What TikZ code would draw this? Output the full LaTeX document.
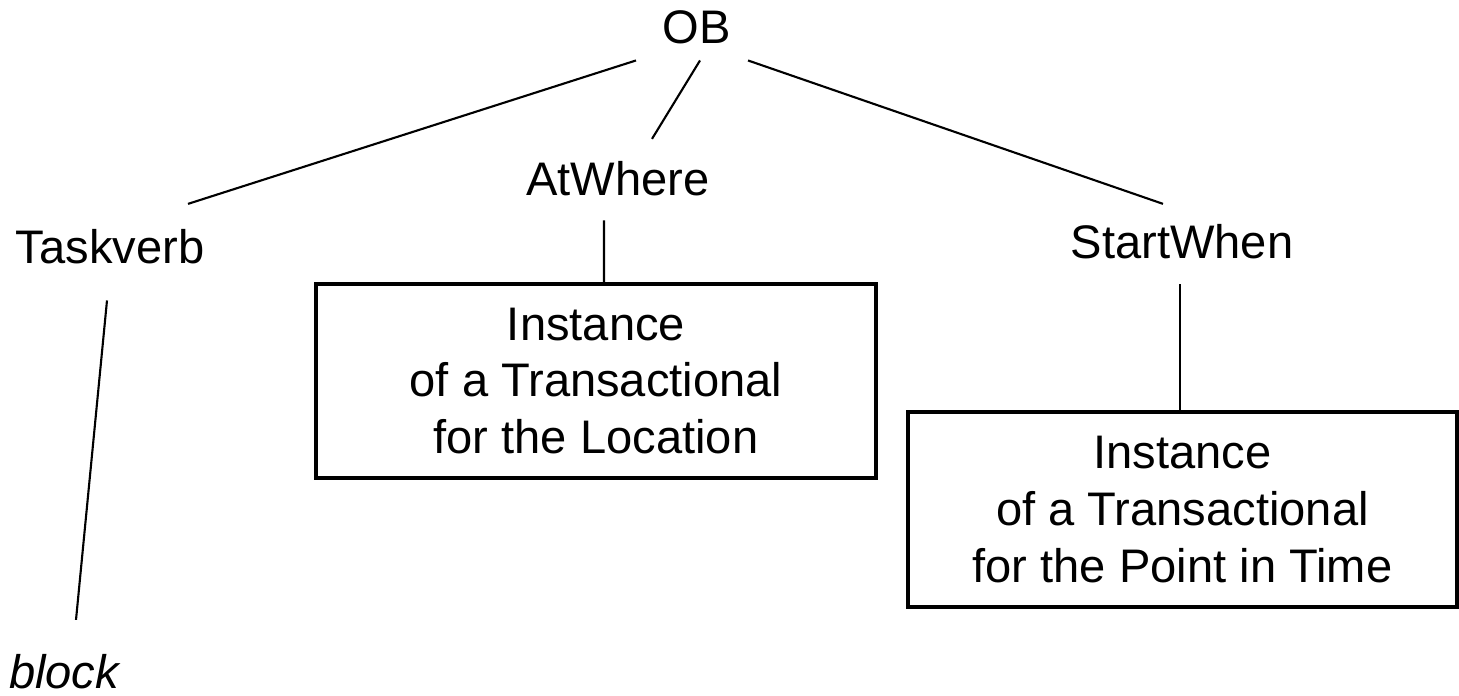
\documentclass[tikz,border=0pt]{standalone}
\usepackage{fontspec}
\setmainfont{Liberation Sans}
\usetikzlibrary{positioning, calc}

\begin{document}
\begin{tikzpicture}[
    word/.style={inner sep=0, outer sep=0, anchor=base, font=\fontsize{13.4}{16.2}\selectfont},
    inst/.style={rectangle, draw, line width=0.9pt, align=center, inner sep=0, font=\fontsize{13.4}{16.2}\selectfont},
    link/.style={line width=0.6pt}
]
    \useasboundingbox (0,0) rectangle (14.59,6.95);

    % tree nodes
    \node[word] (ob) at (6.97, 6.52) {OB};
    \node[word] (atwhere) at (6.18, 5.00) {AtWhere};
    \node[word] (taskverb) at (1.10, 4.32) {Taskverb};
    \node[word] (startwhen) at (11.82, 4.37) {StartWhen};
    \node[word, font=\fontsize{13.4}{16.2}\selectfont\itshape] (block) at (0.64, 0.07) {block};

    % boxes
    \node[inst, minimum width=5.60cm, minimum height=1.94cm] (box1) at (5.96, 3.14)
        {Instance\\of a Transactional\\for the Location};
    \node[inst, minimum width=5.49cm, minimum height=1.95cm] (box2) at (11.825, 1.855)
        {Instance\\of a Transactional\\for the Point in Time};

    % Connections
    \draw[link] ($(ob.south)+(-0.61,-0.17)$) -- ($(taskverb.north)+(0.78,0.25)$);
    \draw[link] ($(ob.south)+(0.03,-0.17)$) -- ($(atwhere.north)+(0.34,0.22)$);
    \draw[link] ($(ob.south)+(0.51,-0.17)$) -- ($(startwhen.north)+(-0.19,0.20)$);
    \draw[link] ($(atwhere.south)+(-0.14,-0.25)$) -- ($(box1.north)+(0.08,0)$);
    \draw[link] ($(startwhen.south)+(-0.02,-0.26)$) -- ($(box2.north)+(-0.025,0)$);
    \draw[link] ($(taskverb.south)+(-0.03,-0.37)$) -- ($(block.north)+(0.12,0.34)$);
\end{tikzpicture}
\end{document}
